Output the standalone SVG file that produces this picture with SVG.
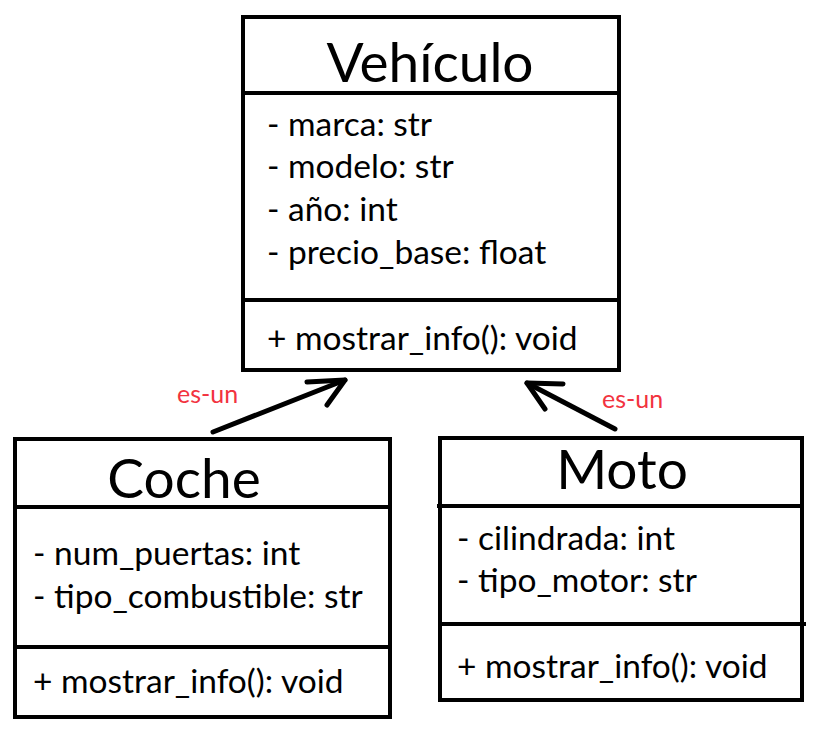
<svg xmlns="http://www.w3.org/2000/svg" width="828" height="731" viewBox="0 0 828 731">
<style>
.box{fill:#fff;stroke:#000;stroke-width:4}
.div{stroke:#000;stroke-width:4}
.title{font-family:Lato,"Open Sans",sans-serif;font-size:55px;fill:#000}
.attr{font-family:Lato,"Open Sans",sans-serif;font-size:33.5px;fill:#000}
.lbl{font-family:Lato,"Open Sans",sans-serif;font-size:25px;fill:#f2333f}
.conn{fill:none;stroke:#000;stroke-width:5;stroke-linecap:round;stroke-linejoin:round}
</style>
<rect width="828" height="731" fill="#fff"/>
<g id="vehiculo">
<rect class="box" x="243" y="17" width="376" height="353"/>
<line class="div" x1="241" y1="93" x2="619" y2="93"/>
<line class="div" x1="243" y1="300" x2="619" y2="300"/>
<text class="title" x="430" y="82" text-anchor="middle">Vehículo</text>
<text class="attr" x="267" y="136">- marca: str</text>
<text class="attr" x="267" y="178">- modelo: str</text>
<text class="attr" x="267" y="221">- año: int</text>
<text class="attr" x="267" y="264">- precio_base: float</text>
<text class="attr" x="267" y="350">+ mostrar_info(): void</text>
</g>
<g id="coche">
<rect class="box" x="15" y="439" width="375" height="278"/>
<line class="div" x1="15" y1="507" x2="390" y2="507"/>
<line class="div" x1="15" y1="647" x2="390" y2="647"/>
<text class="title" x="184" y="498" text-anchor="middle">Coche</text>
<text class="attr" x="33" y="565">- num_puertas: int</text>
<text class="attr" x="33" y="608">- tipo_combustible: str</text>
<text class="attr" x="33" y="693">+ mostrar_info(): void</text>
</g>
<g id="moto">
<rect class="box" x="440" y="438" width="362" height="262"/>
<line class="div" x1="437" y1="506" x2="802" y2="506"/>
<line class="div" x1="440" y1="624" x2="806" y2="624"/>
<text class="title" x="622" y="489" text-anchor="middle">Moto</text>
<text class="attr" x="457" y="550">- cilindrada: int</text>
<text class="attr" x="457" y="592">- tipo_motor: str</text>
<text class="attr" x="457" y="678">+ mostrar_info(): void</text>
</g>
<g id="connectors">
<polyline class="conn" points="213,432 345,380"/>
<polyline class="conn" points="307,382 345,380 327,405"/>
<text class="lbl" x="177" y="403">es-un</text>
<polyline class="conn" points="615,429 527,383"/>
<polyline class="conn" points="563,384 527,383 545,409"/>
<text class="lbl" x="602" y="408">es-un</text>
</g>
</svg>
